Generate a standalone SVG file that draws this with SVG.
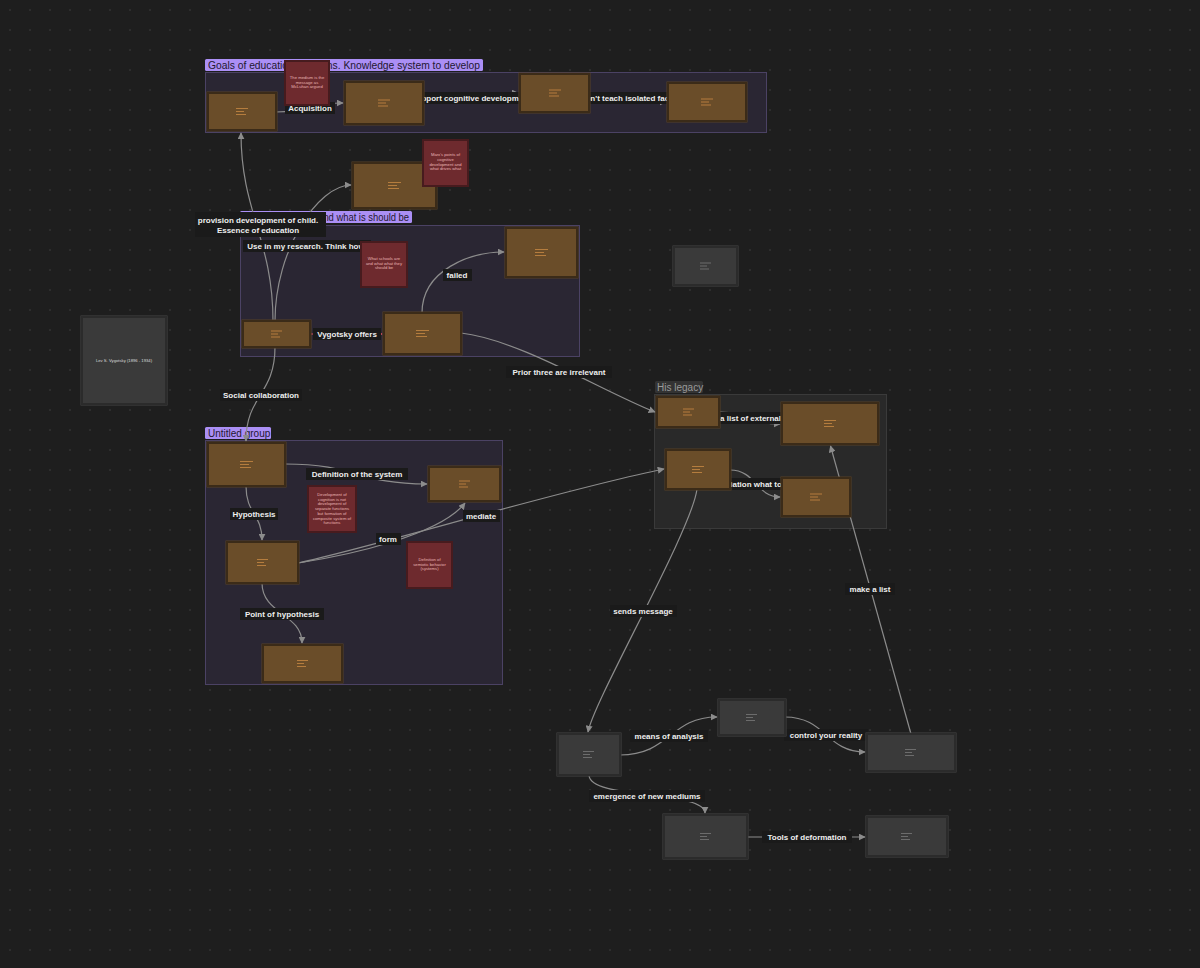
<svg xmlns="http://www.w3.org/2000/svg" width="1200" height="968" viewBox="0 0 1200 968">
<defs>
<pattern id="dots" x="0" y="0" width="20" height="20" patternUnits="userSpaceOnUse">
<circle cx="10" cy="10" r="0.9" fill="#343434"/>
</pattern>
<marker id="arr" viewBox="0 0 10 10" refX="9" refY="5" markerWidth="7" markerHeight="7" markerUnits="userSpaceOnUse" orient="auto">
<path d="M0,0 L10,5 L0,10 z" fill="#8c8c8c"/>
</marker>
<marker id="arrRed" viewBox="0 0 10 10" refX="9" refY="5" markerWidth="7" markerHeight="7" markerUnits="userSpaceOnUse" orient="auto">
<path d="M0,0 L10,5 L0,10 z" fill="#e0505f"/>
</marker>
<style>
.grp{fill:#2a2633;stroke:#4b4264;stroke-width:1}
.grpg{fill:#292929;stroke:#3a3a3a;stroke-width:1}
.glab{fill:#ab8ff5}
.glabt{font-family:"Liberation Sans",Arial,sans-serif;font-size:10px;fill:#1f1830}
.glabg{fill:#333333}
.glabgt{font-family:"Liberation Sans",Arial,sans-serif;font-size:10px;fill:#9a9a9a}
.edge{fill:none;stroke:#8c8c8c;stroke-width:1.2}
.edgeR{fill:none;stroke:#e0505f;stroke-width:1.2}
.elb{fill:#1a1a1a}
.elt{font-family:"Liberation Sans",Arial,sans-serif;font-size:8px;fill:#eeeeee;text-anchor:middle;font-weight:bold}
.bn{fill:#6a4d29;stroke:#3b2b18;stroke-width:2}
.bno{fill:none;stroke:#574126;stroke-width:1}
.bi{stroke:#b57d3e;stroke-width:1.2}
.gn{fill:#3a3a3a;stroke:#2b2b2b;stroke-width:2}
.gno{fill:none;stroke:#444444;stroke-width:1}
.gi{stroke:#6c6c6c;stroke-width:1.2}
.rn{fill:#6e2a2e;stroke:#471b1e;stroke-width:2}
.rt{font-family:"Liberation Sans",Arial,sans-serif;font-size:4.2px;fill:#e8b4b4;text-anchor:middle}
.lt{font-family:"Liberation Sans",Arial,sans-serif;font-size:4.2px;fill:#dddddd;text-anchor:middle}
</style>
</defs>
<rect width="1200" height="968" fill="#1e1e1e"/>
<rect width="1200" height="968" fill="url(#dots)"/>

<!-- groups -->
<g id="group-goals">
<rect class="grp" x="205.5" y="72.5" width="561" height="60"/>
<rect class="glab" x="205" y="59" width="278" height="12" rx="1.5"/>
<text class="glabt" x="208" y="68.5" textLength="272" lengthAdjust="spacingAndGlyphs">Goals of education functions. Knowledge system to develop</text>
</g>
<g id="group-schools">
<rect class="grp" x="240.5" y="225.5" width="339" height="131"/>
<rect class="glab" x="240" y="211" width="172" height="12" rx="1.5"/>
<text class="glabt" x="243" y="220.5" textLength="166" lengthAdjust="spacingAndGlyphs">What schools are and what is should be</text>
</g>
<g id="group-untitled">
<rect class="grp" x="205.5" y="440.5" width="297" height="244"/>
<rect class="glab" x="205" y="427" width="66" height="12" rx="1.5"/>
<text class="glabt" x="208" y="436.5">Untitled group</text>
</g>
<g id="group-legacy">
<rect class="grpg" x="654.5" y="394.5" width="232" height="134"/>
<rect class="glabg" x="655" y="381" width="48" height="12" rx="1.5"/>
<text class="glabgt" x="657" y="390.5">His legacy</text>
</g>

<!-- connectors -->
<g id="connectors">
<path class="edge" d="M276,112 C310,112 310,103 343,103" marker-end="url(#arr)"/>
<path class="edge" d="M423,103 C470,103 472,93 518,93" marker-end="url(#arr)"/>
<path class="edge" d="M589,93 C628,93 628,102 666,102" marker-end="url(#arr)"/>
<path class="edge" d="M273,321 C273,240 241,212 241,133" marker-end="url(#arr)"/>
<path class="edge" d="M275,321 C275,250 318,185 351,185" marker-end="url(#arr)"/>
<path class="edgeR" d="M310,334 L382,334" marker-end="url(#arrRed)"/>
<path class="edge" d="M422,313 C422,270 470,252 504,252" marker-end="url(#arr)"/>
<path class="edge" d="M461,333 C520,340 600,390 655,412" marker-end="url(#arr)"/>
<path class="edge" d="M275,347 C275,395 246,395 246,441" marker-end="url(#arr)"/>
<path class="edge" d="M285,464 C357,464 357,484 427,484" marker-end="url(#arr)"/>
<path class="edge" d="M246,486 C246,514 262,514 262,540" marker-end="url(#arr)"/>
<path class="edge" d="M298,563 C350,555 440,535 465,503" marker-end="url(#arr)"/>
<path class="edge" d="M298,563 C380,545 560,490 664,469" marker-end="url(#arr)"/>
<path class="edge" d="M262,583 C262,614 302,614 302,643" marker-end="url(#arr)"/>
<path class="edge" d="M719,412 C750,412 750,424 780,424" marker-end="url(#arr)"/>
<path class="edge" d="M730,470 C756,470 756,497 780,497" marker-end="url(#arr)"/>
<path class="edge" d="M697,489 C692,530 594,700 588,732" marker-end="url(#arr)"/>
<path class="edge" d="M911,734 L830.5,446" marker-end="url(#arr)"/>
<path class="edge" d="M620,755 C670,755 670,717 717,717" marker-end="url(#arr)"/>
<path class="edge" d="M785,717 C826,717 826,752 865,752" marker-end="url(#arr)"/>
<path class="edge" d="M589,775 C589,800 705,790 705,813" marker-end="url(#arr)"/>
<path class="edge" d="M747,837 L865,837" marker-end="url(#arr)"/>
</g>

<!-- connector labels -->
<g id="connector-labels">
<rect class="elb" x="285" y="102" width="50" height="12"/><text class="elt" x="310" y="111">Acquisition</text>
<rect class="elb" x="410" y="92" width="122" height="12"/><text class="elt" x="471" y="101">Support cognitive development</text>
<rect class="elb" x="573" y="92" width="110" height="12"/><text class="elt" x="628" y="101">Don't teach isolated facts</text>
<rect class="elb" x="195" y="212" width="131" height="25"/><text class="elt" x="258" y="222.5">provision development of child.</text><text class="elt" x="258" y="233">Essence of education</text>
<rect class="elb" x="243" y="240" width="128" height="12"/><text class="elt" x="306" y="249">Use in my research. Think how</text>
<rect class="elb" x="313" y="328" width="68" height="12"/><text class="elt" x="347" y="337">Vygotsky offers</text>
<rect class="elb" x="443" y="269" width="29" height="12"/><text class="elt" x="457" y="278">failed</text>
<rect class="elb" x="506" y="366" width="106" height="12"/><text class="elt" x="559" y="375">Prior three are irrelevant</text>
<rect class="elb" x="220" y="389" width="82" height="12"/><text class="elt" x="261" y="398">Social collaboration</text>
<rect class="elb" x="306" y="468" width="102" height="12"/><text class="elt" x="357" y="477">Definition of the system</text>
<rect class="elb" x="230" y="508" width="48" height="12"/><text class="elt" x="254" y="517">Hypothesis</text>
<rect class="elb" x="376" y="533" width="25" height="12"/><text class="elt" x="388" y="542">form</text>
<rect class="elb" x="463" y="510" width="37" height="12"/><text class="elt" x="481" y="519">mediate</text>
<rect class="elb" x="240" y="608" width="84" height="12"/><text class="elt" x="282" y="617">Point of hypothesis</text>
<rect class="elb" x="690" y="412" width="122" height="12"/><text class="elt" x="751" y="421">Make a list of external signs</text>
<rect class="elb" x="712" y="478" width="88" height="12"/><text class="elt" x="756" y="487">Mediation what to use</text>
<rect class="elb" x="610" y="605" width="67" height="12"/><text class="elt" x="643" y="614">sends message</text>
<rect class="elb" x="845" y="583" width="50" height="12"/><text class="elt" x="870" y="592">make a list</text>
<rect class="elb" x="630" y="730" width="78" height="12"/><text class="elt" x="669" y="739">means of analysis</text>
<rect class="elb" x="784" y="729" width="84" height="12"/><text class="elt" x="826" y="738">control your reality</text>
<rect class="elb" x="589" y="790" width="116" height="12"/><text class="elt" x="647" y="799">emergence of new mediums</text>
<rect class="elb" x="762" y="831" width="90" height="12"/><text class="elt" x="807" y="840">Tools of deformation</text>
</g>

<!-- brown nodes -->
<g id="node-A"><rect class="bno" x="207" y="92" width="70" height="39"/><rect class="bn" x="208" y="93" width="68" height="37"/><path class="bi" d="M236,108.5h12M236,111.5h8M236,114.5h10"/></g>
<g id="node-B"><rect class="bno" x="344" y="81" width="80" height="44"/><rect class="bn" x="345" y="82" width="78" height="42"/><path class="bi" d="M378,100h12M378,103h8M378,106h10"/></g>
<g id="node-C"><rect class="bno" x="519" y="73" width="71" height="40"/><rect class="bn" x="520" y="74" width="69" height="38"/><path class="bi" d="M549,90h12M549,93h8M549,96h10"/></g>
<g id="node-D"><rect class="bno" x="667" y="82" width="80" height="40"/><rect class="bn" x="668" y="83" width="78" height="38"/><path class="bi" d="M701,99h12M701,102h8M701,105h10"/></g>
<g id="node-F"><rect class="bno" x="352" y="162" width="85" height="47"/><rect class="bn" x="353" y="163" width="83" height="45"/><path class="bi" d="M388,182.5h13M388,185.5h9M388,188.5h11"/></g>
<g id="node-E"><rect class="bno" x="242" y="320" width="69" height="28"/><rect class="bn" x="243" y="321" width="67" height="26"/><path class="bi" d="M271,331h11M271,334h7M271,337h9"/></g>
<g id="node-H"><rect class="bno" x="383" y="312" width="79" height="43"/><rect class="bn" x="384" y="313" width="77" height="41"/><path class="bi" d="M416,330.5h13M416,333.5h9M416,336.5h11"/></g>
<g id="node-I"><rect class="bno" x="505" y="227" width="73" height="51"/><rect class="bn" x="506" y="228" width="71" height="49"/><path class="bi" d="M535,249.5h13M535,252.5h9M535,255.5h11"/></g>
<g id="node-K"><rect class="bno" x="207" y="442" width="79" height="45"/><rect class="bn" x="208" y="443" width="77" height="43"/><path class="bi" d="M240,461.5h13M240,464.5h9M240,467.5h11"/></g>
<g id="node-N"><rect class="bno" x="428" y="466" width="73" height="36"/><rect class="bn" x="429" y="467" width="71" height="34"/><path class="bi" d="M459,481h11M459,484h7M459,487h9"/></g>
<g id="node-O"><rect class="bno" x="226" y="541" width="73" height="43"/><rect class="bn" x="227" y="542" width="71" height="41"/><path class="bi" d="M257,559.5h11M257,562.5h7M257,565.5h9"/></g>
<g id="node-P"><rect class="bno" x="262" y="644" width="81" height="39"/><rect class="bn" x="263" y="645" width="79" height="37"/><path class="bi" d="M297,660.5h11M297,663.5h7M297,666.5h9"/></g>
<g id="node-J"><rect class="bno" x="656" y="396" width="64" height="32"/><rect class="bn" x="657" y="397" width="62" height="30"/><path class="bi" d="M683,409h11M683,412h7M683,415h9"/></g>
<g id="node-R"><rect class="bno" x="781" y="402" width="98" height="43"/><rect class="bn" x="782" y="403" width="96" height="41"/><path class="bi" d="M824,420.5h12M824,423.5h8M824,426.5h10"/></g>
<g id="node-Q"><rect class="bno" x="665" y="449" width="66" height="41"/><rect class="bn" x="666" y="450" width="64" height="39"/><path class="bi" d="M692,466.5h12M692,469.5h8M692,472.5h10"/></g>
<g id="node-S"><rect class="bno" x="781" y="477" width="70" height="40"/><rect class="bn" x="782" y="478" width="68" height="38"/><path class="bi" d="M810,494h12M810,497h8M810,500h10"/></g>

<!-- grey nodes -->
<g id="node-vygotsky"><rect class="gno" x="81" y="316" width="86" height="89"/><rect class="gn" x="82" y="317" width="84" height="87"/><text class="lt" x="124" y="362">Lev S. Vygotsky (1896 - 1934)</text></g>
<g id="node-M"><rect class="gno" x="673" y="246" width="65" height="40"/><rect class="gn" x="674" y="247" width="63" height="38"/><path class="gi" d="M700,263h11M700,266h7M700,269h9"/></g>
<g id="node-U"><rect class="gno" x="557" y="733" width="64" height="43"/><rect class="gn" x="558" y="734" width="62" height="41"/><path class="gi" d="M583,751.5h11M583,754.5h7M583,757.5h9"/></g>
<g id="node-V"><rect class="gno" x="718" y="699" width="68" height="37"/><rect class="gn" x="719" y="700" width="66" height="35"/><path class="gi" d="M746,714.5h11M746,717.5h7M746,720.5h9"/></g>
<g id="node-T"><rect class="gno" x="866" y="733" width="90" height="39"/><rect class="gn" x="867" y="734" width="88" height="37"/><path class="gi" d="M905,749.5h11M905,752.5h7M905,755.5h9"/></g>
<g id="node-W"><rect class="gno" x="663" y="814" width="85" height="45"/><rect class="gn" x="664" y="815" width="83" height="43"/><path class="gi" d="M700,833.5h11M700,836.5h7M700,839.5h9"/></g>
<g id="node-X"><rect class="gno" x="866" y="816" width="82" height="41"/><rect class="gn" x="867" y="817" width="80" height="39"/><path class="gi" d="M901,833.5h11M901,836.5h7M901,839.5h9"/></g>

<!-- sticky notes -->
<g id="note-mcluhan"><rect class="rn" x="285" y="61" width="44" height="44"/><text class="rt" x="307" y="79"><tspan x="307">The medium is the</tspan><tspan x="307" dy="4.6">message as</tspan><tspan x="307" dy="4.6">McLuhan argued</tspan></text></g>
<g id="note-marx"><rect class="rn" x="423" y="140" width="45" height="46"/><text class="rt" x="445.5" y="156"><tspan x="445.5">Marx's points of</tspan><tspan x="445.5" dy="4.8">cognitive</tspan><tspan x="445.5" dy="4.8">development and</tspan><tspan x="445.5" dy="4.8">what drives what</tspan></text></g>
<g id="note-schools"><rect class="rn" x="361" y="242" width="46" height="45"/><text class="rt" x="384" y="260"><tspan x="384">What schools are</tspan><tspan x="384" dy="4.6">and what what they</tspan><tspan x="384" dy="4.6">should be</tspan></text></g>
<g id="note-cognition"><rect class="rn" x="308" y="486" width="48" height="46"/><text class="rt" x="332" y="496"><tspan x="332">Development of</tspan><tspan x="332" dy="4.7">cognition is not</tspan><tspan x="332" dy="4.7">development of</tspan><tspan x="332" dy="4.7">separate functions</tspan><tspan x="332" dy="4.7">but formation of</tspan><tspan x="332" dy="4.7">composite system of</tspan><tspan x="332" dy="4.7">functions</tspan></text></g>
<g id="note-semiotic"><rect class="rn" x="407" y="542" width="45" height="46"/><text class="rt" x="429.5" y="561"><tspan x="429.5">Definition of</tspan><tspan x="429.5" dy="4.6">semiotic behavior</tspan><tspan x="429.5" dy="4.6">(systems)</tspan></text></g>
</svg>
